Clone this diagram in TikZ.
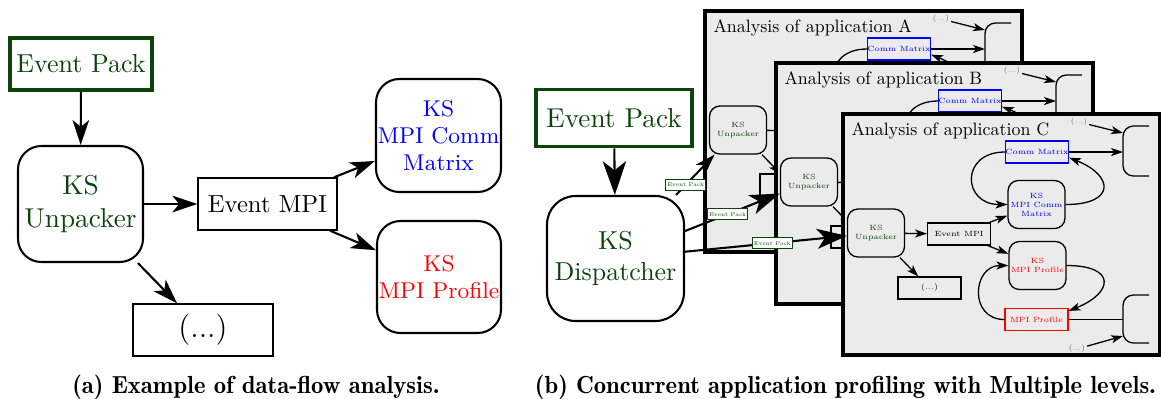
\documentclass[tikz,border=0pt]{standalone}
\usetikzlibrary{arrows.meta}

\definecolor{evgreen}{RGB}{12,68,12}
\newcommand{\pxu}{0.385pt}

% one analysis window, later windows are drawn on top of earlier ones
\newcommand{\apppanel}[3]{%
  \begin{scope}[shift={(#1,#2)}]
    \draw[panelframe] (0,0) rectangle (317,241);
    \node[paneltitle] (title#3) at (8,21) {\scalebox{0.69}{Analysis of application #3}};
    % boxes cut by the right edge
    \draw[inline, rounded corners=4pt] (306,12) -- (280,12) -- (280,62) -- (306,62);
    \draw[inline, rounded corners=4pt] (306,181) -- (280,181) -- (280,229) -- (306,229);
    \coordinate (topdots#3) at (280,19);
    \coordinate (topin#3) at (280,38);
    \coordinate (botin#3) at (280,205.5);
    \coordinate (botdots#3) at (280,222);
    \node[smalldots] (dt#3) at (236,8) {(...)};
    \node[smalldots] (db#3) at (234,235) {(...)};
    \node[inbox, draw=blue, text=blue] (cm#3) at (194,38) {Comm Matrix};
    \node[inround, text=blue] (kcm#3) at (193.5,90.5) {KS\\MPI Comm\\Matrix};
    \node[inround, text=evgreen] (unp#3) at (33,119) {KS\\Unpacker};
    \node[inbox] (mpi#3) at (116,120) {Event MPI};
    \node[inround, text=red] (kpr#3) at (194.5,151.5) {KS\\MPI Profile};
    \node[inbox] (more#3) at (86.5,174) {(...)};
    \node[inbox, draw=red, text=red] (pr#3) at (193.5,205.5) {MPI Profile};
    \draw[inflow] (dt#3) -- (topdots#3);
    \draw[inflow] (cm#3) -- (topin#3);
    \draw[inline] (pr#3) -- (botin#3);
    \draw[inflow] (db#3) -- (botdots#3);
    \draw[inflow] (unp#3) -- (mpi#3);
    \draw[inflow] (unp#3) -- (more#3);
    \draw[inflow] (mpi#3) -- (kcm#3);
    \draw[inflow] (mpi#3) -- (kpr#3);
    \draw[inflow] (cm#3.west) .. controls +(-45,0) and +(-45,0) .. (kcm#3.west);
    \draw[inflow] (kcm#3.east) .. controls +(50,0) and +(45,18) .. (cm#3.-10);
    \draw[inflow] (kpr#3.east) .. controls +(50,0) and +(45,-18) .. (pr#3.15);
    \draw[inflow] (pr#3.west) .. controls +(-36,0) and +(-36,0) .. (kpr#3.west);
  \end{scope}}

\begin{document}
\begin{tikzpicture}[x=\pxu, y=-\pxu,
    packbox/.style={draw=evgreen, line width=1.5pt, text=evgreen, inner sep=0pt,
      font=\fontsize{10}{12}\selectfont},
    ksbox/.style={draw, rounded corners=9pt, line width=0.8pt, align=center, inner sep=0pt},
    plainbox/.style={draw, line width=0.5pt, inner sep=0pt},
    flow/.style={-{Stealth[length=9.6pt,width=6.4pt,inset=2.6pt]}, line width=0.8pt},
    dispatch/.style={-{Stealth[length=11.5pt,width=7.7pt,inset=3pt]}, line width=0.8pt},
    evlabel/.style={draw=evgreen, fill=white, text=evgreen, line width=0.4pt,
      inner xsep=0.6pt, inner ysep=1.5pt, font=\fontsize{2.1}{2.5}\selectfont},
    panelframe/.style={draw, line width=1.2pt, fill=black!8},
    paneltitle/.style={anchor=base west, inner sep=0pt, font=\fontsize{10}{12}\selectfont},
    inbox/.style={draw, line width=0.4pt, inner sep=0pt, minimum width=63*\pxu,
      minimum height=22*\pxu, font=\fontsize{2.9}{3.4}\selectfont},
    inround/.style={draw, line width=0.5pt, rounded corners=4pt, inner sep=0pt, align=center,
      minimum width=57*\pxu, minimum height=48*\pxu, font=\fontsize{2.9}{3.5}\selectfont},
    inline/.style={line width=0.5pt},
    inflow/.style={-{Stealth[length=4.6pt,width=3.1pt,inset=1.2pt]}, line width=0.5pt},
    smalldots/.style={inner sep=0.5pt, text=black!60, font=\fontsize{2.8}{3.2}\selectfont},
    caption/.style={anchor=base, inner sep=0pt, font=\fontseries{b}\fontsize{9.5}{11}\selectfont}]
  \useasboundingbox (0,0) rectangle (1161,398);

  % (a) data-flow analysis
  \node[packbox, minimum width=142*\pxu, minimum height=52*\pxu] (pack) at (81,64) {Event Pack};
  \node[ksbox, text=evgreen, minimum width=125*\pxu, minimum height=116*\pxu,
    font=\fontsize{10.5}{13}\selectfont] (unpack) at (80.5,204) {KS\\Unpacker};
  \node[plainbox, minimum width=139*\pxu, minimum height=52*\pxu,
    font=\fontsize{9.5}{11}\selectfont] (evmpi) at (267.5,204) {Event MPI};
  \node[ksbox, text=blue, minimum width=125*\pxu, minimum height=113*\pxu,
    font=\fontsize{8.8}{10.4}\selectfont] (commks) at (438.5,135.5) {KS\\MPI Comm\\Matrix};
  \node[ksbox, text=red, minimum width=124*\pxu, minimum height=112*\pxu,
    font=\fontsize{8.8}{10.4}\selectfont] (profks) at (439,277) {KS\\MPI Profile};
  \node[plainbox, minimum width=140*\pxu, minimum height=52*\pxu,
    font=\fontsize{12}{14}\selectfont] (more) at (203,330) {(...)};
  \draw[flow] (pack) -- (unpack);
  \draw[flow] (unpack) -- (evmpi);
  \draw[flow] (evmpi) -- (commks);
  \draw[flow] (evmpi) -- (profks);
  \draw[flow] (unpack) -- (more);
  \node[caption] (capa) at (256,393) {(a) Example of data-flow analysis.};

  % (b) several applications at once
  \apppanel{705}{11}{A}
  \apppanel{776}{63}{B}
  \apppanel{843}{114}{C}
  \node[packbox, minimum width=156*\pxu, minimum height=57*\pxu,
    font=\fontsize{10.5}{12}\selectfont] (packb) at (614,118) {Event Pack};
  \node[ksbox, text=evgreen, rounded corners=11pt, minimum width=137*\pxu, minimum height=125*\pxu,
    font=\fontsize{10}{12}\selectfont] (disp) at (615.5,258.5) {KS\\Dispatcher};
  \draw[-{Stealth[length=13pt,width=9pt,inset=3.5pt]}, line width=0.8pt] (packb) -- (disp);
  \draw[dispatch, -{Stealth[length=7.7pt,width=5pt,inset=2pt]}] (disp) --
    node[evlabel, pos=0.25] (eva) {Event Pack} (unpA);
  \draw[dispatch] (disp) -- node[evlabel, pos=0.45] (evb) {Event Pack} (unpB);
  \draw[dispatch] (disp) -- node[evlabel, pos=0.54] (evc) {Event Pack} (unpC);
  \node[caption] (capb) at (845.5,393) {(b) Concurrent application profiling with Multiple levels.};
\end{tikzpicture}
\end{document}
